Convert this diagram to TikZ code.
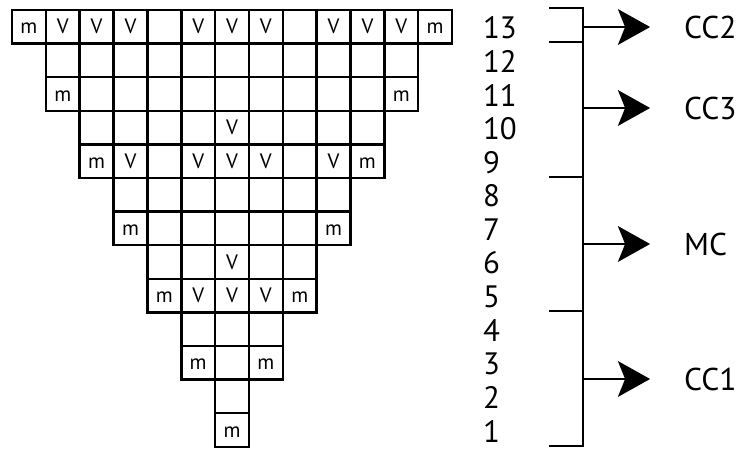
\documentclass[tikz,border=0pt]{standalone}
\usepackage{fontspec}
\setmainfont{PT Sans}
\usetikzlibrary{arrows.meta}

% one row of the chart: row number, first column, cell texts
\newcommand{\stitchrow}[3]{%
  \foreach \t [count=\c from #2] in {#3}
    \node [cell] (r#1c\c) at ({\c+0.5}, {-(13-#1)*0.9926-0.4963}) {\t};
}

\begin{document}
\begin{tikzpicture}
    \tikzstyle{cell} = [rectangle, draw, fill=white, minimum width=1cm, minimum height=0.9926cm, inner sep=0pt, text height=12pt, text depth=0pt, line width=2.1pt, font=\fontsize{17.5}{17.5}\selectfont]
    \tikzstyle{rownum} = [anchor=west, inner sep=0pt, font=\fontsize{26}{26}\selectfont]
    \tikzstyle{yarn} = [anchor=west, inner sep=0pt, font=\fontsize{26.5}{26.5}\selectfont]
    \tikzstyle{brace} = [line width=2.1pt]
    \tikzstyle{arrow} = [line width=2.1pt, -{Stealth[length=27pt, width=30pt, inset=6pt]}, shorten >=1cm]

    \useasboundingbox (-0.355,0.295) rectangle (21.979,-12.94);

    \stitchrow{13}{0}{m,V,V,V,{},V,V,V,{},V,V,V,m}
    \stitchrow{12}{1}{{},{},{},{},{},{},{},{},{},{},{}}
    \stitchrow{11}{1}{m,{},{},{},{},{},{},{},{},{},m}
    \stitchrow{10}{2}{{},{},{},{},V,{},{},{},{}}
    \stitchrow{9}{2}{m,V,{},V,V,V,{},V,m}
    \stitchrow{8}{3}{{},{},{},{},{},{},{}}
    \stitchrow{7}{3}{m,{},{},{},{},{},m}
    \stitchrow{6}{4}{{},{},V,{},{}}
    \stitchrow{5}{4}{m,V,V,V,m}
    \stitchrow{4}{5}{{},{},{}}
    \stitchrow{3}{5}{m,{},m}
    \stitchrow{2}{6}{{}}
    \stitchrow{1}{6}{m}

    \foreach \k in {1,...,13}
        \node [rownum] (n\k) at (13.91, {-(13-\k)*0.9926-0.53}) {\k};

    % bracket
    \coordinate (btop) at (16.87,0.059);
    \coordinate (bbot) at (16.87,-12.881);
    \draw [brace] (15.87,0.059) -- (btop) -- (bbot) -- (15.87,-12.881);
    \draw [brace] (15.87,-0.946) -- (16.87,-0.946);
    \draw [brace] (15.87,-4.934) -- (16.87,-4.934);
    \draw [brace] (15.87,-8.893) -- (16.87,-8.893);

    \coordinate (acc2) at (16.87,-0.503);
    \coordinate (acc3) at (16.87,-2.895);
    \coordinate (amc)  at (16.87,-6.913);
    \coordinate (acc1) at (16.87,-10.901);

    \node [yarn] (cc2) at (19.85,-0.503)  {CC2};
    \node [yarn] (cc3) at (19.85,-2.895)  {CC3};
    \node [yarn] (mc)  at (19.85,-6.913)  {MC};
    \node [yarn] (cc1) at (19.85,-10.901) {CC1};

    \draw [arrow] (acc2) -- (cc2);
    \draw [arrow] (acc3) -- (cc3);
    \draw [arrow] (amc)  -- (mc);
    \draw [arrow] (acc1) -- (cc1);
\end{tikzpicture}
\end{document}
